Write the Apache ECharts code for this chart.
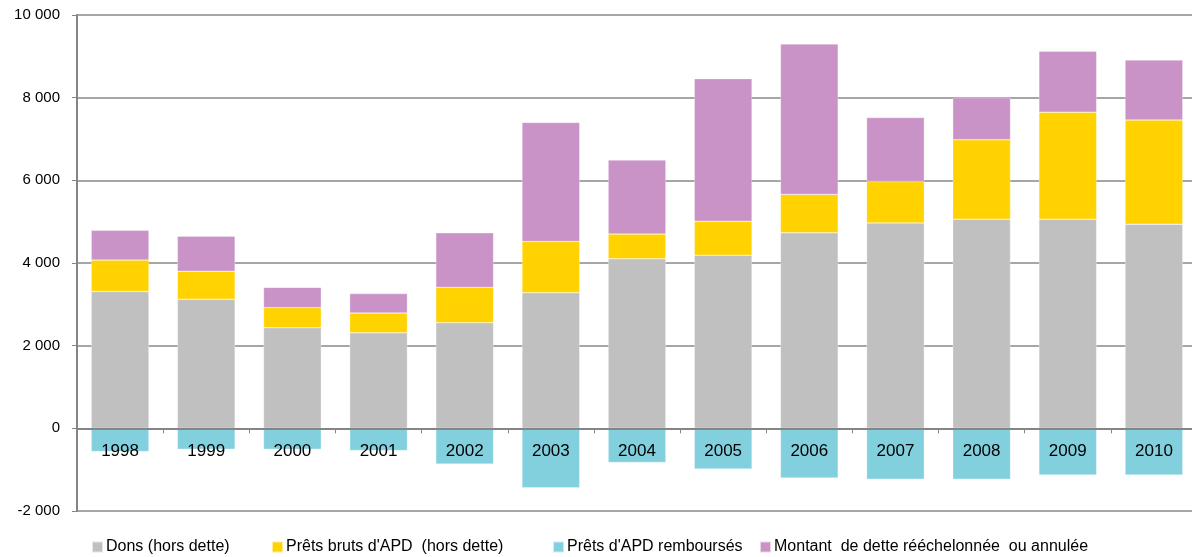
<!DOCTYPE html>
<html>
<head>
<meta charset="utf-8">
<script src="https://cdn.jsdelivr.net/npm/echarts@6/dist/echarts.min.js"></script>
<style>
html,body{margin:0;padding:0;background:#fff;overflow:hidden;}
#chart{width:1200px;height:557px;}
</style>
</head>
<body>
<div id="chart"></div>
<script>
const categories = ['1998','1999','2000','2001','2002','2003','2004','2005','2006','2007','2008','2009','2010'];
const dons = [3310, 3125, 2435, 2310, 2555, 3280, 4100, 4190, 4730, 4970, 5060, 5060, 4940];
const pretsBruts = [760, 675, 485, 480, 855, 1240, 600, 820, 930, 1000, 1920, 2590, 2520];
const pretsRembourses = [-560, -505, -505, -536, -865, -1435, -825, -985, -1200, -1230, -1230, -1130, -1130];
const dette = [720, 850, 490, 470, 1320, 2880, 1790, 3450, 3640, 1550, 1020, 1470, 1450];
const seriesNames = ['Dons (hors dette)', "Prêts bruts d'APD  (hors dette)", "Prêts d'APD remboursés", 'Montant  de dette rééchelonnée  ou annulée'];
const colors = ['#C0C0C0', '#FFD200', '#82D0DD', '#C993C7'];
const yTicks = { min: -2000, max: 10000, interval: 2000 };

function fmt(v){
  const s = Math.abs(v).toString().replace(/\B(?=(\d{3})+(?!\d))/g, ' ');
  return (v < 0 ? '-' : '') + s;
}

const chart = echarts.init(document.getElementById('chart'));
const font = 'Liberation Sans, Arial, sans-serif';
const dataSets = [dons, pretsBruts, pretsRembourses, dette];
const legendLefts = [91, 271, 552, 759];

chart.setOption({
  animation: false,
  textStyle: { fontFamily: font },
  grid: { left: 77, top: 15, right: 3, bottom: 46, containLabel: false },
  legend: seriesNames.map((n, i) => ({
    data: [n],
    left: legendLefts[i],
    top: 539,
    padding: 0,
    itemWidth: 11,
    itemHeight: 11,
    itemGap: 0,
    icon: 'rect',
    textStyle: { fontSize: 16, color: '#000', fontFamily: font, padding: [0,0,0,-2] },
    selectedMode: false
  })),
  xAxis: {
    type: 'category',
    data: categories,
    z: 10,
    axisLine: { onZero: true, lineStyle: { color: '#858585', width: 2 } },
    axisTick: { show: true, length: 5, lineStyle: { color: '#858585', width: 1 } },
    axisLabel: { color: '#000', fontSize: 17, margin: -68, fontFamily: font },
    splitLine: { show: false }
  },
  yAxis: {
    type: 'value',
    min: yTicks.min, max: yTicks.max, interval: yTicks.interval,
    axisLine: { show: true, lineStyle: { color: '#858585', width: 2 } },
    axisTick: { show: true, length: 5, lineStyle: { color: '#858585', width: 1 } },
    axisLabel: { color: '#000', fontSize: 15, margin: 17, formatter: fmt, fontFamily: font },
    splitLine: { show: true, lineStyle: { color: '#A6A6A6', width: 2 } }
  },
  series: seriesNames.map((n, i) => ({
    name: n,
    type: 'bar',
    stack: 'total',
    barCategoryGap: '33%',
    data: dataSets[i],
    itemStyle: { color: colors[i], borderColor: 'rgba(255,255,255,0.6)', borderWidth: 0.5 }
  }))
});
</script>
</body>
</html>
